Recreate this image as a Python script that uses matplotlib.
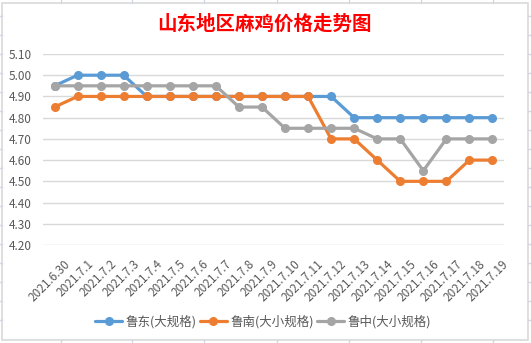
import matplotlib
matplotlib.use("Agg")
import matplotlib.pyplot as plt
from matplotlib.lines import Line2D
from matplotlib.patches import Rectangle
from matplotlib.transforms import ScaledTranslation

plt.rcParams['font.family'] = ['Noto Sans CJK SC', 'DejaVu Sans']

dates = ["2021.6.30", "2021.7.1", "2021.7.2", "2021.7.3", "2021.7.4", "2021.7.5",
         "2021.7.6", "2021.7.7", "2021.7.8", "2021.7.9", "2021.7.10", "2021.7.11",
         "2021.7.12", "2021.7.13", "2021.7.14", "2021.7.15", "2021.7.16", "2021.7.17",
         "2021.7.18", "2021.7.19"]
ludong = [4.95, 5.00, 5.00, 5.00, 4.90, 4.90, 4.90, 4.90, 4.90, 4.90, 4.90, 4.90,
          4.90, 4.80, 4.80, 4.80, 4.80, 4.80, 4.80, 4.80]
lunan = [4.85, 4.90, 4.90, 4.90, 4.90, 4.90, 4.90, 4.90, 4.90, 4.90, 4.90, 4.90,
         4.70, 4.70, 4.60, 4.50, 4.50, 4.50, 4.60, 4.60]
luzhong = [4.95, 4.95, 4.95, 4.95, 4.95, 4.95, 4.95, 4.95, 4.85, 4.85, 4.75, 4.75,
           4.75, 4.75, 4.70, 4.70, 4.55, 4.70, 4.70, 4.70]
series_names = ["鲁东(大规格)", "鲁南(大小规格)", "鲁中(大小规格)"]
yticks = [4.20, 4.30, 4.40, 4.50, 4.60, 4.70, 4.80, 4.90, 5.00, 5.10]
title = "山东地区麻鸡价格走势图"

colors = ["#5B9BD5", "#ED7D31", "#A5A5A5"]
W, H = 531, 343
fig = plt.figure(figsize=(W / 100, H / 100), dpi=100)
fig.patch.set_facecolor("white")

# spreadsheet cell lines outside the chart
for xv in [61, 132, 204, 277, 349, 421, 493]:
    fig.add_artist(Line2D([xv / W, xv / W], [1 - 0 / H, 1 - 3 / H], color="#D0D7E5", lw=1))
    fig.add_artist(Line2D([xv / W, xv / W], [1 - 340 / H, 1 - 343 / H], color="#D0D7E5", lw=1))
for yv in [16, 35, 54, 73, 92, 111, 130, 149, 168, 187, 206, 225, 244, 263, 282, 301, 320]:
    fig.add_artist(Line2D([528 / W, 1], [1 - yv / H, 1 - yv / H], color="#D0D7E5", lw=1))
    fig.add_artist(Line2D([0, 2 / W], [1 - yv / H, 1 - yv / H], color="#D0D7E5", lw=1))
# chart border
fig.add_artist(Rectangle((2 / W, 1 - 340 / H), 526 / W, 337 / H, fill=False,
                         edgecolor="#D9D9D9", lw=1.2, transform=fig.transFigure))

ax = fig.add_axes([43 / W, 1 - 245 / H, 461 / W, 191 / H])
x = list(range(len(dates)))
for vals, c, name in zip([ludong, lunan, luzhong], colors, series_names):
    ax.plot(x, vals, color=c, lw=2.3, marker="o", markersize=5.5, label=name,
            solid_capstyle="round")

ax.set_xlim(-0.5, len(dates) - 0.5)
ax.set_ylim(4.2, 5.1)
ax.set_yticks(yticks)
ax.set_yticklabels([f"{v:.2f}" for v in yticks], fontsize=8.5, color="#595959")
ax.set_xticks(x)
ax.set_xticklabels(dates, rotation=45, ha="right", rotation_mode="anchor",
                   fontsize=8.5, color="#595959")
ax.tick_params(length=0)
ax.tick_params(axis="y", pad=8)
ax.tick_params(axis="x", pad=6)
off = ScaledTranslation(9 / 100, -4 / 100, fig.dpi_scale_trans)
for lbl in ax.get_xticklabels():
    lbl.set_transform(lbl.get_transform() + off)
ax.grid(axis="y", color="#D9D9D9", lw=1)
ax.set_axisbelow(True)
for s in ax.spines.values():
    s.set_visible(False)

fig.text(264 / W, 1 - 24 / H, title, ha="center", va="center", fontsize=14,
         color="#FF0000", fontweight="bold")

fig.legend(loc="center", bbox_to_anchor=(263 / W, 1 - 322 / H), ncol=3, frameon=False,
           fontsize=9, handlelength=2.2, columnspacing=0.25, handletextpad=0.25,
           labelcolor="#595959")

fig.savefig("out.png", dpi=100, facecolor="white")
